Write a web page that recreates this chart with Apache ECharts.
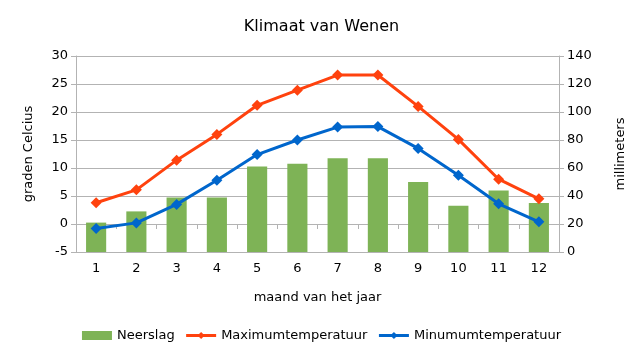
<!DOCTYPE html>
<html><head><meta charset="utf-8">
<script src="https://cdn.jsdelivr.net/npm/echarts@6/dist/echarts.min.js"></script>
<style>html,body{margin:0;padding:0;background:#fff}#c{width:643px;height:355px}</style>
</head><body><div id="c"></div>
<script>
const months = ['1','2','3','4','5','6','7','8','9','10','11','12'];
const neerslag = [21, 29, 39, 39, 61, 63, 67, 67, 50, 33, 44, 35];
const maxTemp = [3.8, 6.1, 11.4, 16.0, 21.2, 23.9, 26.6, 26.6, 21.0, 15.1, 8.0, 4.5];
const minTemp = [-0.8, 0.2, 3.5, 7.8, 12.4, 15.0, 17.3, 17.4, 13.5, 8.7, 3.6, 0.4];
const leftTicks = [-5, 0, 5, 10, 15, 20, 25, 30];
const rightTicks = [0, 20, 40, 60, 80, 100, 120, 140];

const font = 'DejaVu Sans';
const chart = echarts.init(document.getElementById('c'), null, {renderer: 'canvas'});
chart.setOption({
  animation: false,
  backgroundColor: '#fff',
  textStyle: {fontFamily: font},
  title: {text: 'Klimaat van Wenen', left: 'center', top: 14,
    textStyle: {fontFamily: font, fontSize: 16, fontWeight: 'normal', color: '#000'}},
  grid: {left: 76, right: 84, top: 56, bottom: 103, containLabel: false},
  legend: {
    bottom: 8, left: 'center', itemWidth: 30, itemHeight: 9, itemGap: 10,
    textStyle: {fontFamily: font, fontSize: 13, color: '#000'},
    data: [
      {name: 'Neerslag', icon: 'rect'},
      {name: 'Maximumtemperatuur', lineStyle: {width: 3}},
      {name: 'Minumumtemperatuur', lineStyle: {width: 3}}
    ]
  },
  xAxis: {
    type: 'category', data: months, boundaryGap: true,
    name: 'maand van het jaar', nameLocation: 'middle', nameGap: 39,
    nameTextStyle: {fontFamily: font, fontSize: 13, color: '#000'},
    axisLine: {lineStyle: {color: '#b3b3b3', width: 1}},
    axisTick: {show: true, alignWithLabel: false, length: 5, lineStyle: {color: '#b3b3b3'}},
    axisLabel: {fontFamily: font, fontSize: 13, color: '#000', margin: 10}
  },
  yAxis: [
    {
      type: 'value', min: leftTicks[0], max: leftTicks[leftTicks.length-1], interval: 5,
      name: 'graden Celcius', nameLocation: 'middle', nameGap: 41, nameRotate: 90,
      nameTextStyle: {fontFamily: font, fontSize: 13, color: '#000'},
      axisLine: {show: true, lineStyle: {color: '#b3b3b3'}},
      axisTick: {show: true, length: 5, lineStyle: {color: '#b3b3b3'}},
      axisLabel: {fontFamily: font, fontSize: 13, color: '#000', margin: 8},
      splitLine: {show: true, lineStyle: {color: '#b3b3b3', width: 1}}
    },
    {
      type: 'value', min: rightTicks[0], max: rightTicks[rightTicks.length-1], interval: 20,
      name: 'millimeters', nameLocation: 'middle', nameGap: 55, nameRotate: 90,
      nameTextStyle: {fontFamily: font, fontSize: 13, color: '#000'},
      axisLine: {show: true, lineStyle: {color: '#b3b3b3'}},
      axisTick: {show: true, length: 5, lineStyle: {color: '#b3b3b3'}},
      axisLabel: {fontFamily: font, fontSize: 13, color: '#000', margin: 8},
      splitLine: {show: false}
    }
  ],
  series: [
    {name: 'Neerslag', type: 'bar', yAxisIndex: 1, data: neerslag, barWidth: '50%',
      itemStyle: {color: '#7eb356'}},
    {name: 'Maximumtemperatuur', type: 'line', yAxisIndex: 0, data: maxTemp,
      symbol: 'diamond', symbolSize: 11, lineStyle: {color: '#ff420e', width: 3},
      itemStyle: {color: '#ff420e'}},
    {name: 'Minumumtemperatuur', type: 'line', yAxisIndex: 0, data: minTemp,
      symbol: 'diamond', symbolSize: 11, lineStyle: {color: '#0066cc', width: 3},
      itemStyle: {color: '#0066cc'}}
  ]
});
</script></body></html>
